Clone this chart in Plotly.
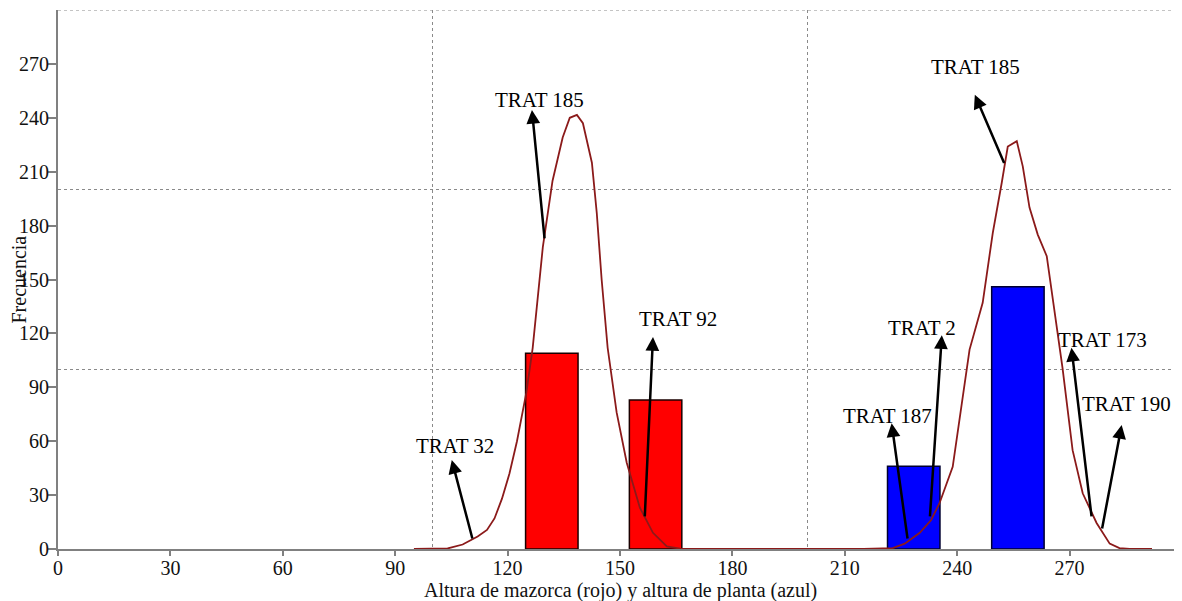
import plotly.graph_objects as go

# ---- data ----
red_x = [131.8, 159.5]
red_y = [109, 83]
blue_x = [228.4, 256.2]
blue_y = [46, 146]
bar_width = 14

curve_x = [95, 100, 104, 108, 112, 114.5, 116.5, 118.5, 120.5, 122.5, 125, 126.7, 129.4, 132,
           134.7, 136.6, 138.5, 140.1, 142.5, 143.8, 145.1, 146.7, 149.1, 151.8, 155.3, 158.8,
           162.5, 166, 170, 215, 220, 222.8, 226, 230, 233, 235.3, 238.8, 240.7, 243.3, 246.8,
           249.5, 251.9, 253.5, 255.9, 257.5, 259.3, 261.5, 263.9, 265.5, 268.1, 270.8, 273.5,
           277.2, 280.7, 283.3, 286, 292]
curve_y = [0, 0, 0.3, 2.5, 7, 10.6, 17, 28, 42, 60, 87, 112, 168, 205,
           229, 240, 241.6, 237, 215, 187, 150, 112, 76, 48, 23, 9,
           1.5, 0.2, 0, 0, 0.1, 0.5, 3, 9, 16, 25.6, 45.7, 73.5, 111, 137,
           176, 204, 224, 227, 213, 190, 175, 163, 139, 101, 55, 31,
           14.5, 3, 0.5, 0, 0]

x_ticks = list(range(0, 300, 30))
y_ticks = list(range(0, 300, 30))
grid_vals = [100, 200, 300]

labels = ["TRAT 185", "TRAT 32", "TRAT 92", "TRAT 185", "TRAT 2", "TRAT 187", "TRAT 173", "TRAT 190"]
label_x = [128.6, 105.9, 165.4, 245.0, 230.5, 221.5, 278.8, 285.2]
label_y = [250, 57.3, 128, 268, 123, 74, 116.4, 80.5]
arrow_tip_x = [126.5, 105.1, 158.8, 244.7, 235.9, 222.5, 270.5, 283.9]
arrow_tip_y = [244.4, 49.6, 118, 252.8, 119, 70, 112, 69]
arrow_tail_x = [129.9, 110.7, 156.6, 252.7, 232.7, 226.8, 275.9, 278.6]
arrow_tail_y = [172, 5, 17.3, 214, 17.3, 5, 17.3, 10.6]

x_title = "Altura de mazorca (rojo) y altura de planta (azul)"
y_title = "Frecuencia"

FONT = "Liberation Serif, Times New Roman, serif"
GRID = "#8a8a8a"

fig = go.Figure()
fig.add_trace(go.Bar(x=red_x, y=red_y, width=bar_width,
                     marker=dict(color="#ff0000", line=dict(color="#1a0000", width=1.5))))
fig.add_trace(go.Bar(x=blue_x, y=blue_y, width=bar_width,
                     marker=dict(color="#0000ff", line=dict(color="#000030", width=1.5))))
fig.add_trace(go.Scatter(x=curve_x, y=curve_y, mode="lines",
                         line=dict(color="#8b1a1a", width=1.8)))

annotations = []
for tx, ty, hx, hy in zip(arrow_tail_x, arrow_tail_y, arrow_tip_x, arrow_tip_y):
    annotations.append(dict(x=hx, y=hy, ax=tx, ay=ty, xref="x", yref="y", axref="x", ayref="y",
                            text="", showarrow=True, arrowhead=2, arrowsize=1.1,
                            arrowwidth=2.5, arrowcolor="black", standoff=0, startstandoff=0))
for t, lx, ly in zip(labels, label_x, label_y):
    annotations.append(dict(x=lx, y=ly, xref="x", yref="y", text=t, showarrow=False,
                            font=dict(family=FONT, size=21, color="black"),
                            xanchor="center", yanchor="middle"))
annotations.append(dict(x=0, xref="paper", xshift=-40, y=150, yref="y", text=y_title,
                        textangle=-90, showarrow=False, xanchor="center", yanchor="middle",
                        font=dict(family=FONT, size=20, color="#111")))
annotations.append(dict(x=150, xref="x", y=0, yref="paper", yshift=-41, text=x_title,
                        showarrow=False, xanchor="center", yanchor="middle",
                        font=dict(family=FONT, size=20, color="#111")))

axis_common = dict(
    range=[0, 300], tickmode="array", ticks="outside", tickwidth=1.5,
    tickcolor="#808080", showline=True, linecolor="#808080", linewidth=2,
    showgrid=False, zeroline=False,
    tickfont=dict(family=FONT, size=20, color="#111"),
    minor=dict(tickmode="array", tickvals=grid_vals, showgrid=True, gridcolor=GRID,
               griddash="dot", gridwidth=1, ticks=""),
)

fig.update_xaxes(tickvals=x_ticks, ticklen=5, ticklabelstandoff=-5, **axis_common)
fig.update_yaxes(tickvals=y_ticks, ticklen=8, ticklabelstandoff=-5, **axis_common)

# top border grid line (gridline at the upper range edge)
fig.add_shape(type="line", xref="paper", x0=0, x1=1, yref="y", y0=300, y1=300,
              line=dict(color=GRID, width=1, dash="dot"), layer="below")

fig.update_layout(
    width=1182, height=601,
    margin=dict(l=50, r=8, t=2, b=60, autoexpand=False),
    plot_bgcolor="white", paper_bgcolor="white",
    showlegend=False, barmode="overlay",
    annotations=annotations,
    font=dict(family=FONT),
)

fig.write_html("out.html")
